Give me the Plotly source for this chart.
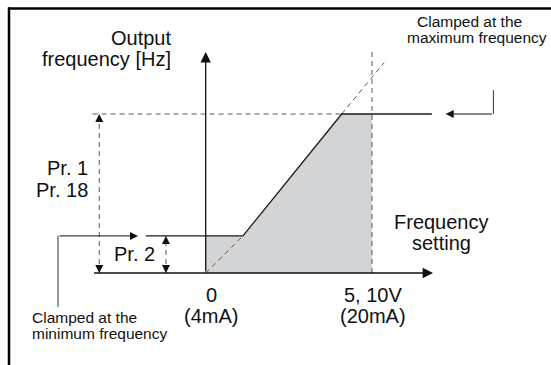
import plotly.graph_objects as go

# ---------------- data (schematic units) ----------------
# x: frequency-setting signal (0 .. 10 = "5, 10V (20mA)")
# y: output frequency [Hz]
min_freq = 14          # Pr. 2  (minimum frequency)
max_freq = 60          # Pr. 1 / Pr. 18 (maximum frequency)
setting_zero = 0       # 0 (4mA)
setting_full = 10      # 5, 10V (20mA)
kink_setting = 2.24    # where the linear part leaves the minimum clamp
clamp_setting = 8.18   # where the linear part reaches the maximum clamp

# output characteristic (solid)
out_x = [-3.6, kink_setting, clamp_setting, 13.6]
out_y = [min_freq, min_freq, max_freq, max_freq]
# shaded operating area
area_x = [setting_zero, setting_zero, kink_setting, clamp_setting, setting_full, setting_full]
area_y = [0, min_freq, min_freq, max_freq, max_freq, 0]
# unclamped (dashed) characteristic
low_dash_x = [setting_zero, kink_setting]
low_dash_y = [0, min_freq]
high_dash_x = [clamp_setting, 10.73]
high_dash_y = [max_freq, 79.4]

x_tick_top = ["0", "5, 10V"]
x_tick_bottom = ["(4mA)", "(20mA)"]
x_tick_pos = [setting_zero, setting_full]

# ---------------- layout helpers ----------------
W, H = 551, 365
X0, XS = 205.7, 16.63   # pixel of x=0, pixels per unit
Y0, YS = 273.0, 2.65    # pixel of y=0, pixels per Hz
x_range = [(0 - X0) / XS, (W - X0) / XS]
y_range = [(Y0 - H) / YS, Y0 / YS]

FONT = "Liberation Sans, Arial, Helvetica, sans-serif"
BIG = 20
SMALL = 15.5
DASH = "5px,4px"
DGRAY = "#5a5a5a"

fig = go.Figure()

fig.add_trace(go.Scatter(x=area_x, y=area_y, fill="toself", fillcolor="#d3d4d6",
                         line=dict(width=0), mode="lines", hoverinfo="skip"))
fig.add_trace(go.Scatter(x=low_dash_x, y=low_dash_y, mode="lines",
                         line=dict(color=DGRAY, width=1, dash=DASH)))
fig.add_trace(go.Scatter(x=high_dash_x, y=high_dash_y, mode="lines",
                         line=dict(color=DGRAY, width=1, dash=DASH)))
# reference dashed lines (max level, full-scale setting)
fig.add_trace(go.Scatter(x=[-6.8, clamp_setting], y=[max_freq, max_freq], mode="lines",
                         line=dict(color=DGRAY, width=1, dash=DASH)))
fig.add_trace(go.Scatter(x=[setting_full, setting_full], y=[0, 84.9], mode="lines",
                         line=dict(color=DGRAY, width=1, dash=DASH)))
# Pr.1 and Pr.2 dimension lines
fig.add_trace(go.Scatter(x=[-6.4, -6.4], y=[0, max_freq], mode="lines",
                         line=dict(color=DGRAY, width=1, dash=DASH)))
fig.add_trace(go.Scatter(x=[-2.39, -2.39], y=[0, min_freq], mode="lines",
                         line=dict(color=DGRAY, width=1, dash=DASH)))
# output characteristic
fig.add_trace(go.Scatter(x=out_x, y=out_y, mode="lines",
                         line=dict(color="#1a1a1a", width=1.3)))
# callout leader lines
fig.add_trace(go.Scatter(x=[-8.88, -8.88], y=[-12.8, min_freq], mode="lines",
                         line=dict(color="#333", width=1)))
fig.add_trace(go.Scatter(x=[17.3, 17.3], y=[69, max_freq], mode="lines",
                         line=dict(color="#333", width=1)))

ann = []


def arrow(x, y, ax, ay, w=1.3, size=1.6):
    ann.append(dict(x=x, y=y, ax=ax, ay=ay, xref="x", yref="y", axref="x", ayref="y",
                    text="", showarrow=True, arrowhead=2, arrowsize=size,
                    arrowwidth=w, arrowcolor="#111"))


# axes
arrow(0, 83.4, 0, 0)
arrow(13.67, 0, -6.8, 0)
# dimension arrowheads
arrow(-6.4, max_freq, -6.4, max_freq - 3, w=1)
arrow(-6.4, 0, -6.4, 3, w=1)
arrow(-2.39, min_freq, -2.39, min_freq - 3, w=1)
arrow(-2.39, 0, -2.39, 3, w=1)
# callouts
arrow(-4.07, min_freq, -8.88, min_freq, w=1)
arrow(14.43, max_freq, 17.3, max_freq, w=1)


def px2x(p):
    return (p - X0) / XS


def py2y(p):
    return (Y0 - p) / YS


def text(t, x, y, xa="center", size=BIG, ya="middle"):
    ann.append(dict(x=x, y=y, xref="x", yref="y", text=t, showarrow=False,
                    xanchor=xa, yanchor=ya, font=dict(family=FONT, size=size, color="#111")))


text("Output", px2x(173), py2y(38), xa="right")
text("frequency [Hz]", px2x(173), py2y(59), xa="right")
text("Pr. 1", px2x(90), py2y(168), xa="right")
text("Pr. 18", px2x(90), py2y(190), xa="right")
text("Pr. 2", px2x(134), py2y(254))
text("Frequency", px2x(441), py2y(222))
text("setting", px2x(441), py2y(243))
for top, bot, xv in zip(x_tick_top, x_tick_bottom, x_tick_pos):
    xc = xv + 0.33 if xv == setting_zero else xv + 0.06
    text(top, xc, py2y(295))
    text(bot, xc, py2y(316))
text("Clamped at the", px2x(469), py2y(21), size=SMALL)
text("maximum frequency", px2x(477), py2y(37), size=SMALL)
text("Clamped at the", px2x(30), py2y(317), xa="left", size=SMALL)
text("minimum frequency", px2x(30), py2y(333), xa="left", size=SMALL)

fig.update_layout(
    width=W, height=H, autosize=False,
    margin=dict(l=0, r=0, t=0, b=0),
    paper_bgcolor="white", plot_bgcolor="white",
    showlegend=False,
    xaxis=dict(range=x_range, visible=False, fixedrange=True),
    yaxis=dict(range=y_range, visible=False, fixedrange=True),
    annotations=ann,
    shapes=[
        dict(type="line", xref="paper", yref="paper", x0=8 / W, x1=1, y0=1 - 8.5 / H, y1=1 - 8.5 / H,
             line=dict(color="black", width=2.5)),
        dict(type="line", xref="paper", yref="paper", x0=9 / W, x1=9 / W, y0=0, y1=1 - 7.5 / H,
             line=dict(color="black", width=2.5)),
    ],
)

fig.write_html("out.html", config={"displayModeBar": False},
               post_script="document.body.style.margin='0px';document.body.style.overflow='hidden';")
